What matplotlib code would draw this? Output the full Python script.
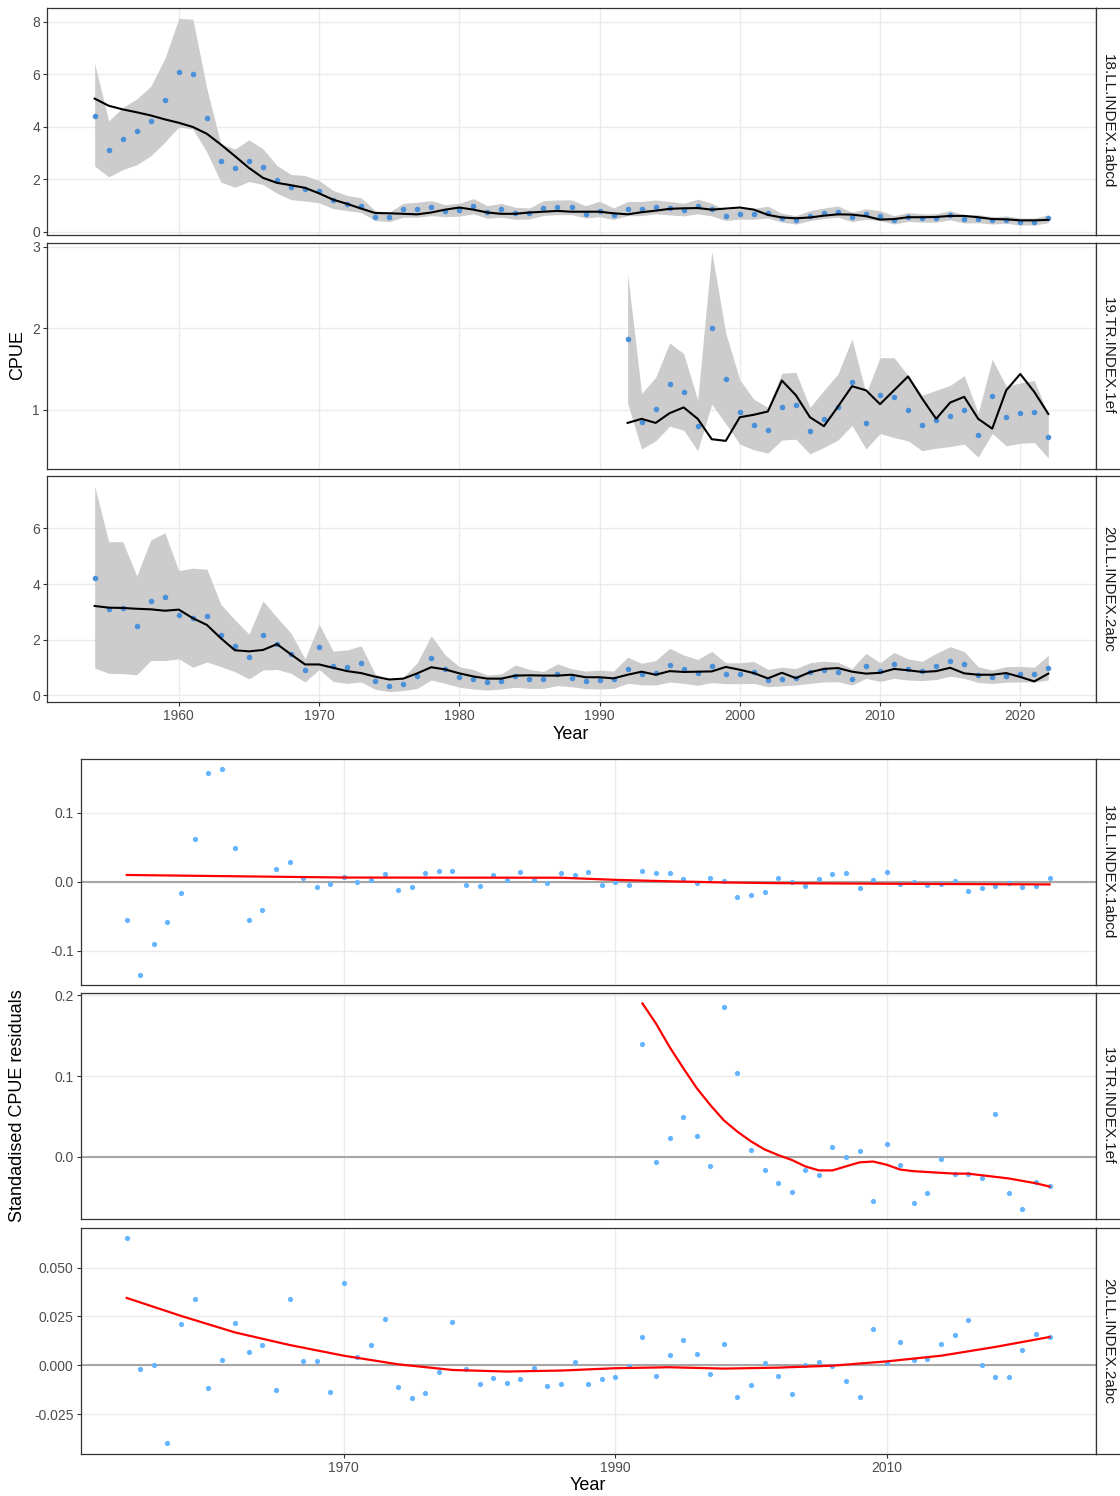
import numpy as np
import matplotlib.pyplot as plt
from matplotlib.ticker import FormatStrFormatter

plt.rcParams['font.family'] = ['Liberation Sans', 'DejaVu Sans']
plt.rcParams['axes.unicode_minus'] = False

years = np.arange(1954, 2023)
years_tr = np.arange(1992, 2023)
labels = ['18.LL.INDEX.1abcd', '19.TR.INDEX.1ef', '20.LL.INDEX.2abc']

# ---- CPUE: observed points, fitted line, ribbon ----
cpue18_obs = [4.42, 3.13, 3.55, 3.82, 4.20, 5.03, 6.10, 6.00, 4.33, 2.68,
              2.43, 2.71, 2.46, 1.95, 1.71, 1.64, 1.55, 1.22, 1.07, 0.99,
              0.57, 0.57, 0.85, 0.85, 0.93, 0.80, 0.83, 0.98, 0.76, 0.85,
              0.70, 0.70, 0.90, 0.93, 0.93, 0.68, 0.80, 0.64, 0.87, 0.87,
              0.94, 0.90, 0.84, 0.96, 0.85, 0.61, 0.68, 0.66, 0.71, 0.52,
              0.45, 0.59, 0.70, 0.76, 0.54, 0.66, 0.61, 0.45, 0.56, 0.51,
              0.52, 0.64, 0.47, 0.50, 0.43, 0.46, 0.37, 0.38, 0.52]
cpue18_fit = [5.07, 4.80, 4.66, 4.55, 4.43, 4.28, 4.15, 3.99, 3.73, 3.32,
              2.88, 2.43, 2.05, 1.86, 1.77, 1.67, 1.46, 1.22, 1.06, 0.88,
              0.71, 0.70, 0.68, 0.66, 0.73, 0.84, 0.92, 0.84, 0.73, 0.68,
              0.68, 0.73, 0.76, 0.79, 0.76, 0.76, 0.76, 0.70, 0.66, 0.74,
              0.80, 0.87, 0.89, 0.90, 0.84, 0.88, 0.92, 0.84, 0.64, 0.54,
              0.51, 0.54, 0.61, 0.66, 0.65, 0.59, 0.46, 0.48, 0.55, 0.55,
              0.56, 0.60, 0.60, 0.55, 0.48, 0.47, 0.43, 0.43, 0.45]
cpue18_hi = [6.41, 4.22, 4.73, 5.06, 5.54, 6.60, 8.13, 8.10, 5.45, 3.34,
             3.15, 3.50, 3.16, 2.52, 2.18, 2.14, 1.95, 1.57, 1.38, 1.29,
             0.80, 0.74, 1.08, 1.12, 1.18, 1.03, 1.08, 1.26, 0.99, 1.08,
             0.93, 0.90, 1.18, 1.21, 1.21, 0.99, 1.16, 0.90, 1.15, 1.15,
             1.21, 1.15, 1.08, 1.24, 1.08, 0.83, 0.90, 0.89, 0.97, 0.70,
             0.61, 0.80, 0.90, 0.98, 0.74, 0.87, 0.80, 0.61, 0.73, 0.68,
             0.68, 0.80, 0.64, 0.65, 0.57, 0.60, 0.52, 0.52, 0.64]
cpue18_lo = [2.50, 2.09, 2.36, 2.55, 2.89, 3.41, 3.99, 3.91, 3.03, 1.89,
             1.69, 1.91, 1.80, 1.46, 1.22, 1.17, 1.10, 0.88, 0.80, 0.73,
             0.42, 0.38, 0.55, 0.55, 0.61, 0.57, 0.59, 0.68, 0.51, 0.55,
             0.47, 0.48, 0.62, 0.65, 0.65, 0.52, 0.57, 0.46, 0.61, 0.61,
             0.68, 0.64, 0.60, 0.68, 0.60, 0.42, 0.48, 0.47, 0.52, 0.36,
             0.29, 0.42, 0.50, 0.55, 0.38, 0.47, 0.42, 0.29, 0.39, 0.36,
             0.36, 0.45, 0.33, 0.34, 0.29, 0.32, 0.25, 0.25, 0.34]

cpue19_obs = [1.87, 0.85, 1.01, 1.32, 1.22, 0.80, 2.00, 1.38, 0.98, 0.82,
              0.75, 1.04, 1.06, 0.74, 0.89, 1.04, 1.34, 0.84, 1.18, 1.16,
              1.00, 0.82, 0.87, 0.93, 1.00, 0.69, 1.17, 0.91, 0.96, 0.98,
              0.67]
cpue19_fit = [0.84, 0.89, 0.84, 0.96, 1.03, 0.89, 0.64, 0.62, 0.91, 0.94,
              0.98, 1.36, 1.18, 0.91, 0.80, 1.04, 1.29, 1.24, 1.07, 1.24,
              1.41, 1.14, 0.89, 1.09, 1.16, 0.89, 0.77, 1.24, 1.44, 1.22,
              0.95]
cpue19_hi = [2.67, 1.20, 1.40, 1.82, 1.69, 1.12, 2.94, 1.94, 1.37, 1.13,
             1.03, 1.45, 1.46, 1.03, 1.24, 1.44, 1.87, 1.20, 1.64, 1.64,
             1.42, 1.18, 1.24, 1.30, 1.42, 0.96, 1.62, 1.29, 1.33, 1.36,
             0.94]
cpue19_lo = [1.08, 0.52, 0.62, 0.80, 0.75, 0.50, 1.07, 0.83, 0.58, 0.51,
             0.47, 0.63, 0.64, 0.46, 0.54, 0.63, 0.81, 0.52, 0.71, 0.66,
             0.62, 0.50, 0.53, 0.55, 0.58, 0.42, 0.71, 0.56, 0.59, 0.60,
             0.41]

cpue20_obs = [4.22, 3.11, 3.13, 2.49, 3.39, 3.54, 2.89, 2.79, 2.85, 2.17,
              1.77, 1.39, 2.17, 1.84, 1.50, 0.90, 1.75, 1.05, 1.03, 1.15,
              0.50, 0.34, 0.40, 0.71, 1.34, 0.93, 0.66, 0.59, 0.47, 0.51,
              0.71, 0.59, 0.57, 0.75, 0.62, 0.53, 0.55, 0.59, 0.95, 0.75,
              0.81, 1.08, 0.93, 0.79, 1.04, 0.77, 0.77, 0.85, 0.54, 0.57,
              0.63, 0.84, 0.92, 0.85, 0.60, 1.07, 0.87, 1.13, 0.95, 0.89,
              1.04, 1.22, 1.14, 0.72, 0.65, 0.71, 0.78, 0.75, 0.99]
cpue20_fit = [3.21, 3.15, 3.14, 3.11, 3.09, 3.04, 3.08, 2.77, 2.53, 2.05,
              1.62, 1.58, 1.63, 1.84, 1.47, 1.11, 1.11, 0.99, 0.87, 0.80,
              0.67, 0.57, 0.60, 0.79, 1.01, 0.93, 0.79, 0.68, 0.60, 0.60,
              0.71, 0.72, 0.71, 0.71, 0.74, 0.65, 0.65, 0.61, 0.74, 0.85,
              0.74, 0.87, 0.84, 0.85, 0.86, 1.02, 0.92, 0.80, 0.61, 0.81,
              0.62, 0.83, 0.95, 0.98, 0.85, 0.78, 0.81, 0.95, 0.90, 0.84,
              0.87, 0.99, 0.79, 0.74, 0.74, 0.80, 0.66, 0.50, 0.78]
cpue20_hi = [7.52, 5.52, 5.52, 4.29, 5.58, 5.84, 4.48, 4.57, 4.53, 3.27,
             2.71, 2.20, 3.39, 2.80, 2.23, 1.31, 2.56, 1.59, 1.63, 1.78,
             0.77, 0.57, 0.65, 1.17, 2.14, 1.45, 1.03, 0.93, 0.73, 0.77,
             1.09, 0.93, 0.86, 1.13, 0.96, 0.87, 0.91, 0.87, 1.37, 1.15,
             1.25, 1.69, 1.45, 1.29, 1.58, 1.17, 1.17, 1.22, 0.93, 1.01,
             0.96, 1.17, 1.23, 1.19, 0.96, 1.51, 1.17, 1.54, 1.31, 1.22,
             1.51, 1.75, 1.57, 1.03, 0.91, 1.03, 1.04, 1.01, 1.44]
cpue20_lo = [0.98, 0.79, 0.78, 0.74, 1.25, 1.25, 1.31, 1.01, 1.20, 1.03,
             0.85, 0.59, 0.91, 0.93, 0.79, 0.48, 0.93, 0.50, 0.43, 0.48,
             0.22, 0.13, 0.17, 0.25, 0.55, 0.43, 0.29, 0.23, 0.19, 0.23,
             0.29, 0.25, 0.25, 0.35, 0.31, 0.24, 0.23, 0.25, 0.43, 0.38,
             0.37, 0.48, 0.43, 0.36, 0.46, 0.42, 0.42, 0.43, 0.31, 0.34,
             0.37, 0.43, 0.48, 0.49, 0.37, 0.61, 0.50, 0.61, 0.55, 0.53,
             0.57, 0.69, 0.61, 0.46, 0.43, 0.47, 0.48, 0.48, 0.55]

# ---- Standardised residuals and smoother ----
res18 = [-0.055, -0.136, -0.090, -0.058, -0.017, 0.062, 0.158, 0.163, 0.049, -0.055,
         -0.041, 0.019, 0.029, 0.005, -0.008, -0.003, 0.007, 0.000, 0.003, 0.011,
         -0.012, -0.008, 0.012, 0.015, 0.015, -0.005, -0.006, 0.010, 0.002, 0.014,
         0.003, -0.002, 0.013, 0.010, 0.014, -0.005, 0.000, -0.005, 0.015, 0.012,
         0.013, 0.004, -0.002, 0.005, 0.001, -0.023, -0.020, -0.015, 0.005, -0.001,
         -0.007, 0.004, 0.011, 0.012, -0.009, 0.002, 0.014, -0.003, 0.000, -0.005,
         -0.004, 0.001, -0.013, -0.009, -0.007, -0.002, -0.008, -0.007, 0.006]
res19 = [0.140, -0.006, 0.023, 0.049, 0.026, -0.011, 0.186, 0.104, 0.008, -0.017,
         -0.033, -0.044, -0.017, -0.023, 0.012, 0.000, 0.007, -0.055, 0.016, -0.010,
         -0.057, -0.045, -0.003, -0.022, -0.022, -0.027, 0.053, -0.045, -0.065, -0.031,
         -0.036]
res20 = [0.0653, -0.0017, 0.0000, -0.0398, 0.0214, 0.0342, -0.0117, 0.0026, 0.0216, 0.0070,
         0.0102, -0.0126, 0.0342, 0.0022, 0.0020, -0.0138, 0.0422, 0.0044, 0.0105, 0.0236,
         -0.0112, -0.0170, -0.0141, -0.0034, 0.0224, -0.0017, -0.0094, -0.0063, -0.0090, -0.0070,
         -0.0015, -0.0104, -0.0094, 0.0015, -0.0094, -0.0068, -0.0060, -0.0002, 0.0146, -0.0056,
         0.0051, 0.0128, 0.0060, -0.0046, 0.0107, -0.0163, -0.0102, 0.0012, -0.0053, -0.0146,
         0.0002, 0.0015, -0.0005, -0.0083, -0.0163, 0.0185, 0.0014, 0.0117, 0.0029, 0.0031,
         0.0111, 0.0155, 0.0233, 0.0003, -0.0061, -0.0060, 0.0080, 0.0162, 0.0143]

sm18_years = [1954, 1962, 1970, 1978, 1986, 1990, 1994, 1998, 2002, 2006, 2010, 2014, 2018, 2022]
sm18 = [0.0097, 0.0078, 0.0060, 0.0058, 0.0057, 0.0026, 0.0005, -0.0012, -0.0022, -0.0026,
        -0.0030, -0.0034, -0.0037, -0.0040]
sm19 = [0.190, 0.165, 0.136, 0.110, 0.085, 0.064, 0.045, 0.031, 0.019, 0.009,
        0.002, -0.004, -0.012, -0.017, -0.017, -0.012, -0.007, -0.006, -0.010, -0.016,
        -0.018, -0.019, -0.020, -0.021, -0.021, -0.023, -0.025, -0.027, -0.030, -0.033,
        -0.037]
sm20_years = [1954, 1958, 1962, 1966, 1970, 1974, 1978, 1982, 1986, 1990, 1994, 1998,
              2002, 2006, 2010, 2014, 2018, 2022]
sm20 = [0.0345, 0.0253, 0.0168, 0.0104, 0.0049, 0.0005, -0.0024, -0.0032, -0.0027,
        -0.0015, -0.0010, -0.0017, -0.0012, -0.0002, 0.0020, 0.0049, 0.0094, 0.0145]

# ---- layout ----
W, H = 1120, 1496
fig = plt.figure(figsize=(W / 100, H / 100), dpi=100)


def rect(x0, y0, x1, y1):
    return [x0 / W, 1 - y1 / H, (x1 - x0) / W, (y1 - y0) / H]


def style(ax, ylim, yticks, yfmt, xticks, show_x):
    ax.set_xlim(1950.6, 2025.4)
    ax.set_ylim(*ylim)
    ax.set_xticks(xticks)
    ax.set_yticks(yticks)
    ax.yaxis.set_major_formatter(FormatStrFormatter(yfmt))
    ax.grid(True, color='#EBEBEB', lw=1.0)
    ax.set_axisbelow(True)
    for s in ax.spines.values():
        s.set_color('#333333')
        s.set_linewidth(0.9)
    ax.tick_params(length=3, width=0.8, color='#333333', labelcolor='#4D4D4D',
                   labelsize=10, pad=2)
    if not show_x:
        ax.tick_params(axis='x', labelbottom=False, length=0)


def strip(y0, y1, text):
    sax = fig.add_axes(rect(1096, y0, 1135, y1))
    sax.set_xticks([])
    sax.set_yticks([])
    for s in sax.spines.values():
        s.set_color('#333333')
        s.set_linewidth(0.9)
    fig.text(1108 / W, 1 - (y0 + y1) / 2 / H, text, rotation=270, ha='center',
             va='center', fontsize=11, color='#1A1A1A')


top_pos = [(8.4, 234.8), (242.7, 469.4), (476, 702.3)]
top_data = [(years, cpue18_obs, cpue18_fit, cpue18_lo, cpue18_hi, (-0.12, 8.51), [0, 2, 4, 6, 8]),
            (years_tr, cpue19_obs, cpue19_fit, cpue19_lo, cpue19_hi, (0.27, 3.05), [1, 2, 3]),
            (years, cpue20_obs, cpue20_fit, cpue20_lo, cpue20_hi, (-0.25, 7.88), [0, 2, 4, 6])]

for i, ((y0, y1), (yr, obs, fit, lo, hi, ylim, yt)) in enumerate(zip(top_pos, top_data)):
    ax = fig.add_axes(rect(47, y0, 1096, y1))
    ax.fill_between(yr, lo, hi, color='#CCCCCC', lw=0, zorder=1)
    ax.scatter(yr, obs, s=16, color='#4A90D9', lw=0, zorder=2)
    ax.plot(yr, fit, color='black', lw=1.5, zorder=3)
    style(ax, ylim, yt, '%d', np.arange(1960, 2021, 10), i == 2)
    strip(y0, y1, labels[i])

fig.text(571 / W, 1 - 734 / H, 'Year', ha='center', va='center', fontsize=13)
fig.text(18 / W, 1 - 355 / H, 'CPUE', rotation=90, ha='center', va='center', fontsize=13)

bot_pos = [(759, 985), (993.3, 1219.3), (1227.7, 1453.7)]
bot_data = [(years, res18, sm18_years, sm18, (-0.150, 0.178), [-0.1, 0.0, 0.1], '%.1f'),
            (years_tr, res19, years_tr, sm19, (-0.0776, 0.2025), [0.0, 0.1, 0.2], '%.1f'),
            (years, res20, sm20_years, sm20, (-0.0453, 0.0705), [-0.025, 0.0, 0.025, 0.05], '%.3f')]

for i, ((y0, y1), (yr, res, syr, sm, ylim, yt, fmt)) in enumerate(zip(bot_pos, bot_data)):
    ax = fig.add_axes(rect(80.6, y0, 1095.7, y1))
    ax.axhline(0, color='#A6A6A6', lw=1.5, zorder=1)
    ax.scatter(yr, res, s=14, color='#63B5FF', lw=0, zorder=2)
    ax.plot(syr, sm, color='#FF0000', lw=1.6, zorder=3)
    style(ax, ylim, yt, fmt, [1970, 1990, 2010], i == 2)
    strip(y0, y1, labels[i])

fig.text(588 / W, 1 - 1485 / H, 'Year', ha='center', va='center', fontsize=13)
fig.text(18 / W, 1 - 1106 / H, 'Standadised CPUE residuals', rotation=90, ha='center',
         va='center', fontsize=13)

fig.savefig('out.png', dpi=100, facecolor='white')
